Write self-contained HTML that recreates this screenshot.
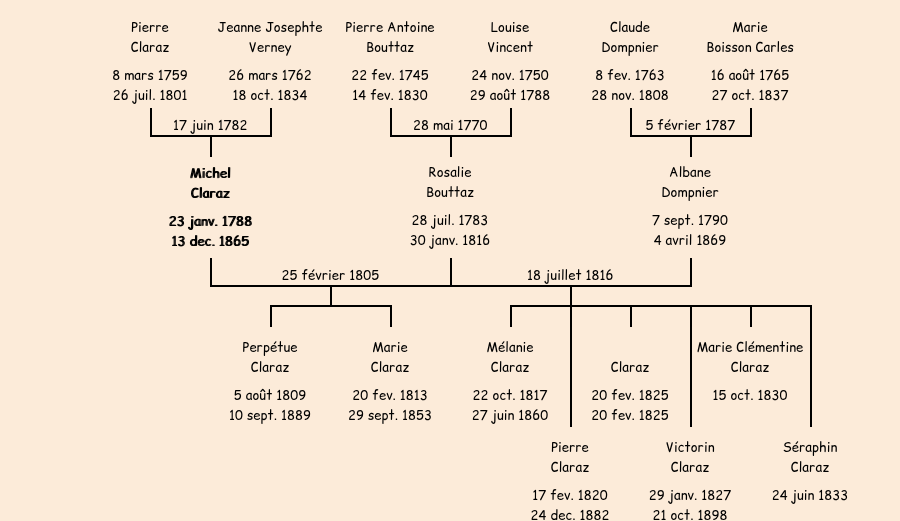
<!DOCTYPE html>
<html lang="fr">
<head>
<meta charset="utf-8">
<title>Arbre généalogique Claraz</title>
<style>
html,body{margin:0;padding:0}
html{width:900px;height:521px;overflow:hidden;background:#FCEBD9}
body{width:900px;height:521px;overflow:hidden;background:#FCEBD9;position:relative;color:#000;
font-family:"Comic Relief","Comic Sans MS","Liberation Sans",sans-serif;font-size:13px;line-height:20px;letter-spacing:.08px}
.l{position:absolute;background:#000}
.t{position:absolute;width:160px;text-align:center;white-space:nowrap}
.t p{margin:0;height:20px;line-height:0}
.t p::before{content:"";display:inline-block;width:0;height:15px}
.t p.d{margin-top:8px}
.w{position:absolute;left:0;top:0;width:900px;height:521px;overflow:hidden}
.b{text-shadow:1px 0 0 #000;letter-spacing:.16px}
</style>
</head>
<body>
<div class="w">
<div class="l" style="left:150px;top:108px;width:2px;height:29px"></div>
<div class="l" style="left:270px;top:108px;width:2px;height:29px"></div>
<div class="l" style="left:150px;top:135px;width:122px;height:2px"></div>
<div class="l" style="left:210px;top:137px;width:2px;height:20px"></div>
<div class="l" style="left:390px;top:108px;width:2px;height:29px"></div>
<div class="l" style="left:510px;top:108px;width:2px;height:29px"></div>
<div class="l" style="left:390px;top:135px;width:122px;height:2px"></div>
<div class="l" style="left:450px;top:137px;width:2px;height:20px"></div>
<div class="l" style="left:630px;top:108px;width:2px;height:29px"></div>
<div class="l" style="left:750px;top:108px;width:2px;height:29px"></div>
<div class="l" style="left:630px;top:135px;width:122px;height:2px"></div>
<div class="l" style="left:690px;top:137px;width:2px;height:20px"></div>
<div class="l" style="left:210px;top:258px;width:2px;height:29px"></div>
<div class="l" style="left:450px;top:258px;width:2px;height:29px"></div>
<div class="l" style="left:690px;top:258px;width:2px;height:29px"></div>
<div class="l" style="left:210px;top:285px;width:482px;height:2px"></div>
<div class="l" style="left:330px;top:287px;width:2px;height:18px"></div>
<div class="l" style="left:270px;top:305px;width:122px;height:2px"></div>
<div class="l" style="left:270px;top:305px;width:2px;height:22px"></div>
<div class="l" style="left:390px;top:305px;width:2px;height:22px"></div>
<div class="l" style="left:570px;top:287px;width:2px;height:140px"></div>
<div class="l" style="left:510px;top:305px;width:302px;height:2px"></div>
<div class="l" style="left:510px;top:305px;width:2px;height:22px"></div>
<div class="l" style="left:630px;top:305px;width:2px;height:22px"></div>
<div class="l" style="left:750px;top:305px;width:2px;height:22px"></div>
<div class="l" style="left:690px;top:305px;width:2px;height:122px"></div>
<div class="l" style="left:810px;top:305px;width:2px;height:122px"></div>
<div class="t" style="left:70px;top:17px"><p>Pierre</p><p>Claraz</p><p class="d">8 mars 1759</p><p>26 juil. 1801</p></div>
<div class="t" style="left:190px;top:17px"><p>Jeanne Josephte</p><p>Verney</p><p class="d">26 mars 1762</p><p>18 oct. 1834</p></div>
<div class="t" style="left:310px;top:17px"><p>Pierre Antoine</p><p>Bouttaz</p><p class="d">22 fev. 1745</p><p>14 fev. 1830</p></div>
<div class="t" style="left:430px;top:17px"><p>Louise</p><p>Vincent</p><p class="d">24 nov. 1750</p><p>29 août 1788</p></div>
<div class="t" style="left:550px;top:17px"><p>Claude</p><p>Dompnier</p><p class="d">8 fev. 1763</p><p>28 nov. 1808</p></div>
<div class="t" style="left:670px;top:17px"><p>Marie</p><p>Boisson Carles</p><p class="d">16 août 1765</p><p>27 oct. 1837</p></div>
<div class="t b" style="left:130px;top:163px"><p>Michel</p><p>Claraz</p><p class="d">23 janv. 1788</p><p>13 dec. 1865</p></div>
<div class="t" style="left:370px;top:162px"><p>Rosalie</p><p>Bouttaz</p><p class="d">28 juil. 1783</p><p>30 janv. 1816</p></div>
<div class="t" style="left:610px;top:162px"><p>Albane</p><p>Dompnier</p><p class="d">7 sept. 1790</p><p>4 avril 1869</p></div>
<div class="t" style="left:190px;top:337px"><p>Perpétue</p><p>Claraz</p><p class="d">5 août 1809</p><p>10 sept. 1889</p></div>
<div class="t" style="left:310px;top:337px"><p>Marie</p><p>Claraz</p><p class="d">20 fev. 1813</p><p>29 sept. 1853</p></div>
<div class="t" style="left:430px;top:337px"><p>Mélanie</p><p>Claraz</p><p class="d">22 oct. 1817</p><p>27 juin 1860</p></div>
<div class="t" style="left:550px;top:337px"><p> </p><p>Claraz</p><p class="d">20 fev. 1825</p><p>20 fev. 1825</p></div>
<div class="t" style="left:670px;top:337px"><p>Marie Clémentine</p><p>Claraz</p><p class="d">15 oct. 1830</p></div>
<div class="t" style="left:490px;top:437px"><p>Pierre</p><p>Claraz</p><p class="d">17 fev. 1820</p><p>24 dec. 1882</p></div>
<div class="t" style="left:610px;top:437px"><p>Victorin</p><p>Claraz</p><p class="d">29 janv. 1827</p><p>21 oct. 1898</p></div>
<div class="t" style="left:730px;top:437px"><p>Séraphin</p><p>Claraz</p><p class="d">24 juin 1833</p></div>
<div class="t" style="left:130.3px;top:115px"><p>17 juin 1782</p></div>
<div class="t" style="left:370.3px;top:115px"><p>28 mai 1770</p></div>
<div class="t" style="left:610.3px;top:115px"><p>5 février 1787</p></div>
<div class="t" style="left:250.3px;top:265px"><p>25 février 1805</p></div>
<div class="t" style="left:490.3px;top:265px"><p>18 juillet 1816</p></div>
</div>
</body>
</html>
